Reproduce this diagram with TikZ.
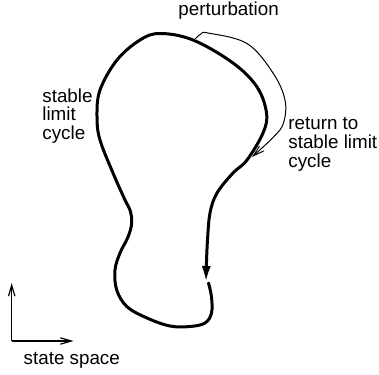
\documentclass[tikz,border=0pt]{standalone}
\usepackage{fontspec}
\setmainfont{Liberation Sans}
\usetikzlibrary{arrows.meta}
\begin{document}
\begin{tikzpicture}[x=0.5pt,y=-0.5pt,
  lbl/.style={font=\fontsize{9.4}{9.4}\selectfont, inner sep=0pt, align=left},
  cyc/.style={line width=1.5pt, line join=round, line cap=round},
  thinline/.style={line width=0.5pt},
  barb/.style={-{Straight Barb[length=5.5pt,width=3.2pt]}}]
\useasboundingbox (0,0) rectangle (379,374);

% labels
\node[lbl, anchor=base west] (pert) at (178,16) {perturbation};
\node[lbl, anchor=north west] (slc) at (42,88) {stable\\limit\\cycle};
\node[lbl, anchor=north west] (ret) at (288,117) {return to\\stable limit\\cycle};
\node[lbl, anchor=base west] (ss) at (23.3,364.3) {state space};

% limit cycle
\draw[cyc, -{Latex[length=8pt,width=4.6pt]}] plot[smooth, tension=0.6] coordinates {
 (208.5,283) (211.5,297) (211.5,313) (205,323) (190,326.5) (170,326) (147,318)
 (127,306.7) (116.7,290) (115,270) (120,253) (128,237) (131.7,223) (130,210)
 (125,200) (113,173) (100,140) (97,117) (100,90) (117,60) (140,40) (160,33.5)
 (193,40) (233,63) (257,87) (266.5,113) (263,133) (247,160) (233,173) (217,193)
 (210,213) (207.5,240) (206.5,262) (206,282)};

% perturbation
\draw[thinline, barb] plot[smooth, tension=0.6] coordinates {
 (195,39) (201,34) (208,33) (247,43.5) (273,73) (285,100) (283.5,123) (273.5,137) (252,157)};

% state space axes
\coordinate (o) at (11.7,341);
\coordinate (yend) at (11.7,283);
\coordinate (xend) at (73.5,341);
\draw[line width=0.6pt, barb] (o) -- (yend);
\draw[line width=0.6pt, barb] (o) -- (xend);
\end{tikzpicture}
\end{document}
